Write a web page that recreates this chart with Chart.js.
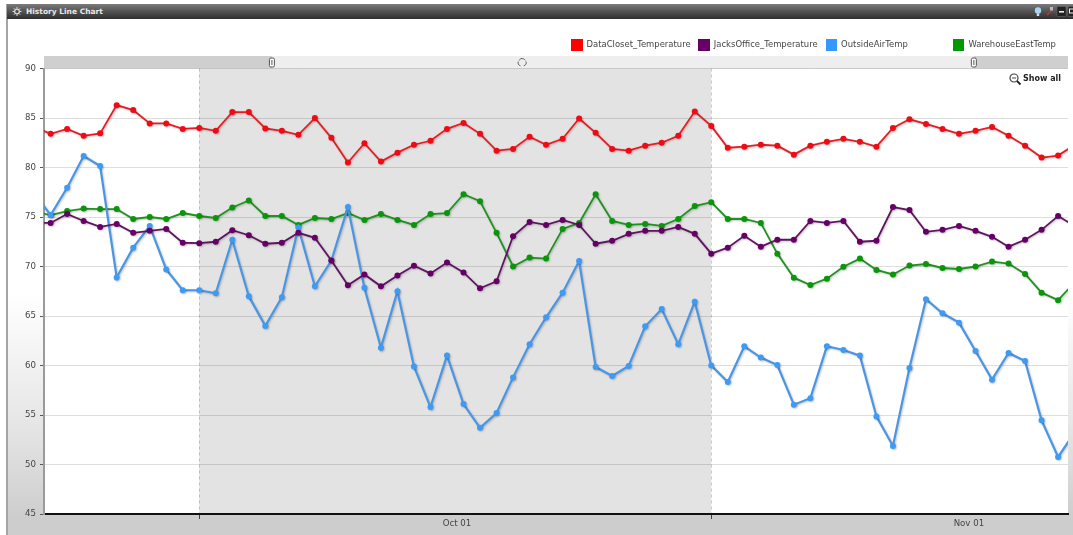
<!DOCTYPE html>
<html>
<head>
<meta charset="utf-8">
<title>History Line Chart</title>
<script src="https://cdn.jsdelivr.net/npm/chart.js@4"></script>
<style>
    html, body { margin: 0; padding: 0; background: #fff; overflow: hidden; }
    body { width: 1073px; height: 535px; position: relative; font-family: "DejaVu Sans", sans-serif; }
    .panel {
        position: absolute; left: 6px; top: 4px; right: 0; bottom: 0;
        border-left: 2px solid #a4a4a4; box-sizing: border-box;
        background: linear-gradient(#fff 0, #fff 290px, #e6e6e6 420px, #cdcdcd 515px);
    }
    .titlebar {
        position: absolute; left: 7px; top: 4px; right: 0; height: 15px;
        background: linear-gradient(#7b7b7b, #565656 45%, #2e2e2e);
        color: #e8e8e8; font-size: 7.5px; font-weight: bold; line-height: 15px;
    }
    .titlebar span { position: absolute; left: 19px; top: 0; }
    .titlebar svg { position: absolute; left: 0; top: 0; }
    canvas { position: absolute; left: 0; top: 0; }
    .legend {
        position: absolute; left: 571px; top: 39px;
        display: grid; grid-template-columns: repeat(4, 127.3px);
        font-size: 8.45px; color: #444; line-height: 11px;
    }
    .legend div { white-space: nowrap; }
    .legend i { display: inline-block; width: 11.5px; height: 11.5px; margin-right: 4px; vertical-align: top; }
    .show-all {
        position: absolute; left: 1023px; top: 73px;
        font-size: 8px; font-weight: bold; color: #222; line-height: 11px;
    }
</style>
</head>
<body>
<div class="panel"></div>
<div class="titlebar">
    <svg width="1066" height="15">
        <g stroke="#ddd" fill="none">
            <circle cx="10" cy="7.5" r="2.4" stroke-width="1.2"/>
            <path d="M10 3v1.5M10 10.5V12M5.5 7.5H7M13 7.5h1.5M6.8 4.3l1 1M12.2 9.7l1 1M6.8 10.7l1-1M12.2 5.3l1-1" stroke-width="1"/>
        </g>
        <circle cx="1031" cy="6.5" r="3.2" fill="#a9d5f5"/>
        <rect x="1029.8" y="9.5" width="2.4" height="2.5" fill="#dde"/>
        <path d="M1040 11l4-4" stroke="#b33" stroke-width="1.6"/>
        <rect x="1043" y="3" width="3" height="3.5" fill="#bbb"/>
        <rect x="1050" y="2.5" width="9" height="10" rx="1" fill="#222" stroke="#666" stroke-width="0.6"/>
        <rect x="1052" y="7" width="5" height="1.6" fill="#eee"/>
        <rect x="1061" y="2.5" width="9" height="10" rx="1" fill="#222" stroke="#666" stroke-width="0.6"/>
        <rect x="1062.5" y="5" width="4" height="4" fill="none" stroke="#eee"/>
    </svg>
    <span>History Line Chart</span>
</div>
<canvas id="historyChart" width="1073" height="535"></canvas>
<div class="legend" id="legend"></div>
<svg style="position:absolute;left:1008px;top:72px" width="14" height="14">
    <circle cx="6" cy="6" r="4" fill="#fff" stroke="#444" stroke-width="1.2"/>
    <path d="M4 6h4" stroke="#444"/>
    <path d="M9 9l3.5 3.5" stroke="#222" stroke-width="1.8"/>
</svg>
<div class="show-all">Show all</div>

<script>
    // days counted from Oct 1, one reading per day
    const days = [
        -10, -9, -8, -7, -6, -5, -4, -3, -2, -1, 0, 1, 2, 3, 4, 5,
        6, 7, 8, 9, 10, 11, 12, 13, 14, 15, 16, 17, 18, 19, 20, 21,
        22, 23, 24, 25, 26, 27, 28, 29, 30, 31, 32, 33, 34, 35, 36, 37,
        38, 39, 40, 41, 42, 43, 44, 45, 46, 47, 48, 49, 50, 51, 52, 53
    ];

    const dataClosetTemp = [
        84.1, 83.4, 83.9, 83.2, 83.45, 86.3, 85.8, 84.45, 84.45, 83.9, 84.0, 83.7, 85.6, 85.6, 83.95, 83.7,
        83.3, 85.0, 83.0, 80.5, 82.45, 80.6, 81.5, 82.3, 82.7, 83.9, 84.5, 83.4, 81.7, 81.87, 83.1, 82.3,
        82.9, 84.95, 83.5, 81.87, 81.7, 82.2, 82.5, 83.2, 85.65, 84.2, 82.0, 82.1, 82.3, 82.2, 81.3, 82.2,
        82.6, 82.9, 82.6, 82.1, 84.0, 84.87, 84.4, 83.9, 83.4, 83.7, 84.1, 83.2, 82.2, 81.0, 81.2, 82.3
    ];
    const jacksOfficeTemp = [
        74.4, 74.4, 75.3, 74.6, 74.0, 74.3, 73.4, 73.6, 73.8, 72.4, 72.36, 72.5, 73.67, 73.16, 72.3, 72.4,
        73.4, 72.9, 70.6, 68.1, 69.2, 68.0, 69.1, 70.07, 69.3, 70.4, 69.4, 67.8, 68.5, 73.05, 74.5, 74.2,
        74.7, 74.2, 72.3, 72.6, 73.3, 73.6, 73.6, 74.0, 73.3, 71.3, 71.9, 73.1, 72.0, 72.7, 72.7, 74.6,
        74.4, 74.6, 72.5, 72.6, 76.0, 75.7, 73.5, 73.7, 74.1, 73.6, 73.0, 72.0, 72.7, 73.7, 75.1, 74.1
    ];
    const outsideAirTemp = [
        77.4, 75.2, 77.95, 81.15, 80.15, 68.9, 71.9, 74.1, 69.7, 67.6, 67.6, 67.3, 72.7, 67.0, 64.0, 66.9,
        73.95, 68.0, 70.6, 76.0, 67.85, 61.8, 67.5, 59.9, 55.8, 61.0, 56.1, 53.7, 55.2, 58.8, 62.15, 64.87,
        67.36, 70.55, 59.85, 58.94, 59.95, 63.96, 65.7, 62.14, 66.45, 60.0, 58.33, 61.94, 60.8, 60.05, 56.04, 56.7,
        61.94, 61.57, 61.0, 54.86, 51.87, 59.75, 66.7, 65.27, 64.33, 61.46, 58.57, 61.26, 60.45, 54.46, 50.76, 53.25
    ];
    const warehouseEastTemp = [
        75.55, 75.2, 75.6, 75.85, 75.8, 75.8, 74.8, 75.0, 74.8, 75.4, 75.1, 74.9, 75.96, 76.67, 75.1, 75.1,
        74.2, 74.9, 74.8, 75.4, 74.7, 75.3, 74.7, 74.2, 75.3, 75.4, 77.3, 76.6, 73.4, 70.0, 70.9, 70.8,
        73.8, 74.4, 77.3, 74.6, 74.2, 74.3, 74.1, 74.8, 76.1, 76.5, 74.8, 74.8, 74.4, 71.3, 68.87, 68.13,
        68.77, 69.98, 70.8, 69.65, 69.2, 70.1, 70.25, 69.85, 69.75, 70.0, 70.5, 70.3, 69.25, 67.36, 66.6, 68.4
    ];

    const seriesNames = ['DataCloset_Temperature', 'JacksOffice_Temperature', 'OutsideAirTemp', 'WarehouseEastTemp'];
    const seriesValues = [dataClosetTemp, jacksOfficeTemp, outsideAirTemp, warehouseEastTemp];
    const swatchColors = ['#ff0000', '#660066', '#3399ff', '#009900'];
    const lineColors = ['#e81c24', '#5f1561', '#4a96e6', '#1f931f'];
    const pointColors = ['#f00a14', '#660066', '#3d9bf5', '#0a960a'];

    const monthStarts = [0, 31];
    const monthLabels = ['Oct 01', 'Nov 01'];
    const monthLabelDays = [15.6, 46.6];
    const yTicks = [45, 50, 55, 60, 65, 70, 75, 80, 85, 90];
    const rangeWindow = [4.4, 46.9];
    const rangeGripDay = 19.55;

    // plot background, highlighted month and the range slider above the plot
    const plotDecor = {
        id: 'plotDecor',
        beforeDraw(chart) {
            const { ctx, chartArea: a, scales: { x } } = chart;
            ctx.save();
            ctx.fillStyle = '#fff';
            ctx.fillRect(a.left, a.top, a.width, a.height);
            const from = x.getPixelForValue(monthStarts[0]);
            const to = x.getPixelForValue(monthStarts[1]);
            ctx.fillStyle = '#e3e3e3';
            ctx.fillRect(from, a.top, to - from, a.height);

            const barTop = a.top - 12.5;
            const left = x.getPixelForValue(rangeWindow[0]);
            const right = x.getPixelForValue(rangeWindow[1]);
            ctx.fillStyle = '#cfcfcf';
            ctx.fillRect(a.left, barTop, a.width, 12.5);
            ctx.fillStyle = '#eeeeee';
            ctx.fillRect(left, barTop, right - left, 12.5);
            [left, right].forEach((px) => {
                ctx.fillStyle = '#fff';
                ctx.strokeStyle = '#555';
                ctx.lineWidth = 1;
                ctx.beginPath();
                ctx.roundRect(px - 2.5, barTop + 2, 5, 9, 1.5);
                ctx.fill();
                ctx.stroke();
                ctx.fillStyle = '#555';
                ctx.fillRect(px - 0.5, barTop + 4, 1, 5);
            });
            // grip on the slider
            const grip = x.getPixelForValue(rangeGripDay);
            ctx.strokeStyle = '#666';
            ctx.beginPath();
            ctx.arc(grip, barTop + 6, 3.5, Math.PI * 1.15, Math.PI * 0.75 + Math.PI * 1.1);
            ctx.stroke();
            ctx.beginPath();
            ctx.arc(grip - 0.5, barTop + 6.5, 3.5, Math.PI * 0.6, Math.PI * 1.1);
            ctx.stroke();
            ctx.beginPath();
            ctx.arc(grip + 0.5, barTop + 6.5, 3.5, Math.PI * 1.9, Math.PI * 0.4);
            ctx.stroke();
            ctx.restore();
        },
        beforeDatasetDraw(chart) {
            const { ctx } = chart;
            ctx.save();
            ctx.shadowColor = 'rgba(0, 0, 0, 0.22)';
            ctx.shadowBlur = 2;
            ctx.shadowOffsetX = 1;
            ctx.shadowOffsetY = 1;
        },
        afterDatasetDraw(chart) {
            chart.ctx.restore();
        }
    };

    const isMonthStart = (value) => monthStarts.includes(value);

    new Chart(document.getElementById('historyChart'), {
        type: 'line',
        plugins: [plotDecor],
        data: {
            datasets: seriesNames.map((name, s) => ({
                label: name,
                data: days.map((day, i) => ({ x: day, y: seriesValues[s][i] })),
                borderColor: lineColors[s],
                backgroundColor: pointColors[s],
                borderWidth: s === 2 ? 2.2 : 1.8,
                pointRadius: 3,
                pointBorderWidth: 0,
                tension: 0,
                fill: false
            }))
        },
        options: {
            responsive: false,
            animation: false,
            layout: { padding: { top: 68.5, right: 5, left: 0, bottom: 0 } },
            plugins: { legend: { display: false }, tooltip: { enabled: false } },
            scales: {
                x: {
                    type: 'linear',
                    min: -9.4,
                    max: 52.6,
                    afterFit(scale) { scale.height = 21; },
                    afterBuildTicks(scale) {
                        scale.ticks = monthStarts.concat(monthLabelDays)
                            .sort((a, b) => a - b)
                            .map((value) => ({ value }));
                    },
                    border: { color: '#111', width: 2, dash: [3, 3] },
                    grid: {
                        color: (ctx) => (ctx.tick && isMonthStart(ctx.tick.value) ? 'rgba(0, 0, 0, 0.18)' : 'transparent'),
                        tickColor: (ctx) => (ctx.tick && isMonthStart(ctx.tick.value) ? '#444' : 'transparent'),
                        tickLength: 5
                    },
                    ticks: {
                        autoSkip: false,
                        maxRotation: 0,
                        padding: 0,
                        color: '#444',
                        font: { family: '"DejaVu Sans"', size: 8.6 },
                        callback(value) {
                            const idx = monthLabelDays.indexOf(value);
                            return idx >= 0 ? monthLabels[idx] : '';
                        }
                    }
                },
                y: {
                    min: 45,
                    max: 90,
                    afterFit(scale) { scale.width = 44; },
                    afterBuildTicks(scale) {
                        scale.ticks = yTicks.map((value) => ({ value }));
                    },
                    border: { color: '#9a9a9a', width: 2 },
                    grid: {
                        color: 'rgba(0, 0, 0, 0.13)',
                        tickColor: '#555',
                        tickLength: 4
                    },
                    ticks: {
                        padding: 4,
                        color: '#444',
                        font: { family: '"DejaVu Sans"', size: 8.6 }
                    }
                }
            }
        }
    });

    // legend sits above the slider in evenly spaced columns
    document.getElementById('legend').innerHTML = seriesNames
        .map((name, s) => `<div><i style="background:${swatchColors[s]}"></i>${name}</div>`)
        .join('');
</script>
</body>
</html>
